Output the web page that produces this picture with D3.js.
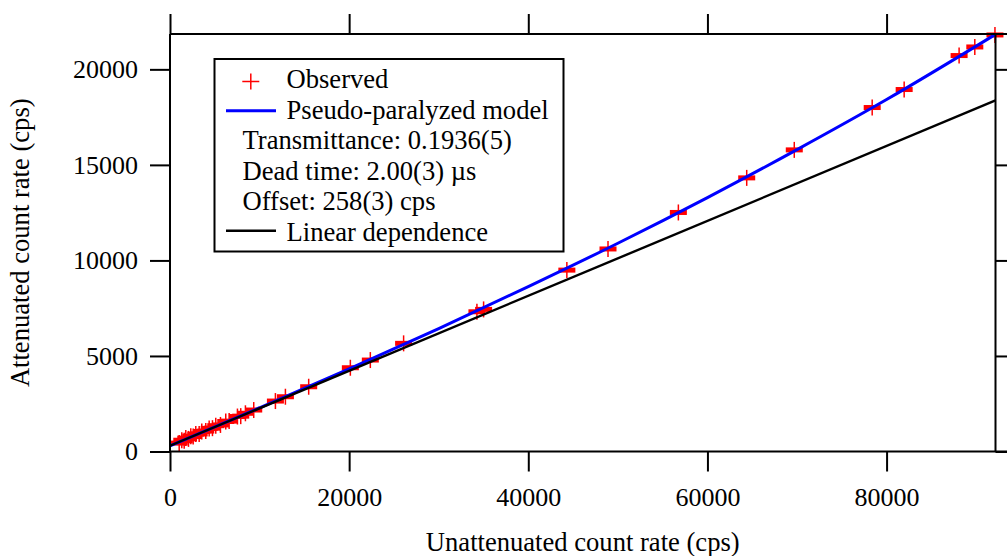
<!DOCTYPE html>
<html>
<head>
<meta charset="utf-8">
<script src="https://cdn.jsdelivr.net/npm/d3@7"></script>
<style>
  html, body { margin: 0; padding: 0; background: #fff; }
  svg { display: block; font-family: "Liberation Serif", "Times New Roman", serif; }
</style>
</head>
<body>
<svg id="chart" width="1007" height="556"></svg>
<script>
// ---- data ----
const obsX = [1026, 1316, 1584, 1762, 2064, 2320, 2588, 2878, 3257, 3547, 3993, 4373, 4741, 5109, 5633, 6224, 6603, 7529, 7897, 8420,
              9347, 11768, 12884, 15483, 20134, 22365, 26080, 34266, 35010, 44306, 48900, 56755, 64385, 69695, 78394, 81963, 88097, 89849, 92100];
const obsY = [440, 590, 560, 700, 660, 800, 780, 910, 920, 1050, 1070, 1210, 1220, 1350, 1390, 1570, 1590, 1830, 1850, 2000,
              2170, 2640, 2866, 3389, 4383, 4786, 5660, 7312, 7437, 9493, 10600, 12510, 14320, 15785, 18002, 18944, 20722, 21172, 21800];

const modelX = [0, 10000, 20000, 30000, 40000, 50000, 60000, 70000, 80000, 92160];
const modelY = [300, 2290, 4320, 6430, 8630, 10900, 13290, 15800, 18420, 21830];

const linX = [0, 92160];
const linY = [300, 18380];

const xTicks = [0, 20000, 40000, 60000, 80000];
const yTicks = [0, 5000, 10000, 15000, 20000];

const legendItems = ["Observed", "Pseudo-paralyzed model", "Transmittance: 0.1936(5)", "Dead time: 2.00(3) \u00b5s", "Offset: 258(3) cps", "Linear dependence"];
const xTitle = "Unattenuated count rate (cps)";
const yTitle = "Attenuated count rate (cps)";

// ---- layout ----
const W = 1007, H = 556;
const L = 170, R = 995.5, T = 34, B = 451.5;
const FS = 26.6, TFS = 26;

const svg = d3.select("#chart");
const x = d3.scaleLinear().domain([0, 92160]).range([L, R]);
const y = d3.scaleLinear().domain([0, 21850]).range([B, T]);

// data markers
const pts = svg.append("g");
obsX.forEach((vx, i) => {
  const cx = x(vx), cy = y(obsY[i]);
  pts.append("rect").attr("x", cx - 8.5).attr("y", cy - 2.5).attr("width", 17).attr("height", 5).attr("fill", "#ff0000");
  pts.append("line").attr("x1", cx).attr("x2", cx).attr("y1", cy - 8).attr("y2", cy + 8)
     .attr("stroke", "#ff0000").attr("stroke-width", 1.5);
});

// model line
const model = modelX.map((v, i) => [v, modelY[i]]);
svg.append("path").datum(model)
  .attr("d", d3.line().x(d => x(d[0])).y(d => y(d[1])).curve(d3.curveMonotoneX))
  .attr("fill", "none").attr("stroke", "#0000ff").attr("stroke-width", 3);

// linear line
const lin = linX.map((v, i) => [v, linY[i]]);
svg.append("path").datum(lin)
  .attr("d", d3.line().x(d => x(d[0])).y(d => y(d[1])))
  .attr("fill", "none").attr("stroke", "#000").attr("stroke-width", 2.4);

// axes
function styleAxis(g) {
  g.select(".domain").remove();
  g.selectAll(".tick line").attr("stroke", "#000").attr("stroke-width", 2);
  g.selectAll(".tick text").attr("fill", "#000").attr("font-size", TFS).attr("font-family", "Liberation Serif, Times New Roman, serif");
}
svg.append("g").attr("transform", `translate(0,${B})`)
  .call(d3.axisBottom(x).tickValues(xTicks).tickSize(20).tickSizeOuter(0).tickPadding(16).tickFormat(d3.format("d")))
  .call(styleAxis);
svg.append("g").attr("transform", `translate(0,${T})`)
  .call(d3.axisTop(x).tickValues(xTicks).tickSize(20).tickSizeOuter(0).tickFormat(""))
  .call(styleAxis);
svg.append("g").attr("transform", `translate(${L},0)`)
  .call(d3.axisLeft(y).tickValues(yTicks).tickSize(20).tickSizeOuter(0).tickPadding(12).tickFormat(d3.format("d")))
  .call(styleAxis);
svg.append("g").attr("transform", `translate(${R},0)`)
  .call(d3.axisRight(y).tickValues(yTicks).tickSize(20).tickSizeOuter(0).tickFormat(""))
  .call(styleAxis);

// frame
const frame = svg.append("g").attr("stroke", "#000").attr("stroke-width", 2).attr("fill", "none");
frame.append("line").attr("x1", L).attr("x2", W).attr("y1", B).attr("y2", B);
frame.append("line").attr("x1", L).attr("x2", W).attr("y1", T).attr("y2", T);
frame.append("line").attr("x1", L).attr("x2", L).attr("y1", T).attr("y2", B);
frame.append("line").attr("x1", R).attr("x2", R).attr("y1", T).attr("y2", B);

// titles
svg.append("text").attr("x", (L + R) / 2).attr("y", 551).attr("text-anchor", "middle")
  .attr("font-size", FS).attr("fill", "#000").text(xTitle);
svg.append("text").attr("transform", `translate(29,${(T + B) / 2}) rotate(-90)`).attr("text-anchor", "middle")
  .attr("font-size", FS).attr("fill", "#000").text(yTitle);

// legend
const lg = svg.append("g");
lg.append("rect").attr("x", 214.5).attr("y", 59).attr("width", 349).attr("height", 192.5)
  .attr("fill", "#fff").attr("stroke", "#000").attr("stroke-width", 2);
const rowBase = [88, 118.5, 149, 179.5, 210, 240.5];
const rowX = [286.5, 286.5, 242.5, 242.5, 242.5, 286.5];
legendItems.forEach((t, i) => {
  lg.append("text").attr("x", rowX[i]).attr("y", rowBase[i]).attr("font-size", FS).attr("fill", "#000").text(t);
});
// legend symbols
lg.append("line").attr("x1", 242.3).attr("x2", 259.3).attr("y1", 81.5).attr("y2", 81.5).attr("stroke", "#ff0000").attr("stroke-width", 1.5);
lg.append("line").attr("x1", 250.8).attr("x2", 250.8).attr("y1", 73.5).attr("y2", 89.5).attr("stroke", "#ff0000").attr("stroke-width", 1.5);
lg.append("line").attr("x1", 226).attr("x2", 276).attr("y1", 110.7).attr("y2", 110.7).attr("stroke", "#0000ff").attr("stroke-width", 3);
lg.append("line").attr("x1", 226).attr("x2", 276).attr("y1", 230.7).attr("y2", 230.7).attr("stroke", "#000").attr("stroke-width", 2.4);
</script>
</body>
</html>
